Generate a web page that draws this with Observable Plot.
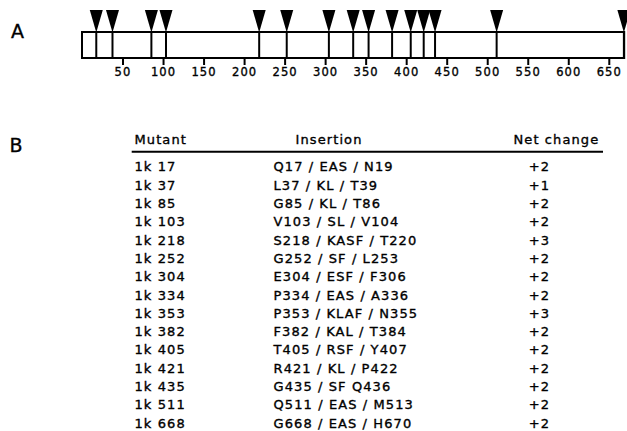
<!DOCTYPE html>
<html><head><meta charset="utf-8">
<script src="https://cdn.jsdelivr.net/npm/d3@7"></script>
<script src="https://cdn.jsdelivr.net/npm/@observablehq/plot@0.6"></script>
<style>
body{margin:0;background:#fff;}
#chart{width:627px;height:431px;overflow:hidden;position:relative;background:#fff}
#chart svg{display:block;overflow:visible;background:#fff}
#chart svg text{letter-spacing:1.1px;stroke:black;stroke-width:0.35px}
</style></head><body><div id="chart"></div>
<script>
// ---- data ----
const mutants = ["1k 17","1k 37","1k 85","1k 103","1k 218","1k 252","1k 304","1k 334","1k 353","1k 382","1k 405","1k 421","1k 435","1k 511","1k 668"];
const sites = [17,37,85,103,218,252,304,334,353,382,405,421,435,511,668];
const insertions = ["Q17 / EAS / N19","L37 / KL / T39","G85 / KL / T86","V103 / SL / V104","S218 / KASF / T220","G252 / SF / L253","E304 / ESF / F306","P334 / EAS / A336","P353 / KLAF / N355","F382 / KAL / T384","T405 / RSF / Y407","R421 / KL / P422","G435 / SF Q436","Q511 / EAS / M513","G668 / EAS / H670"];
const netChanges = ["+2","+1","+2","+2","+3","+2","+2","+2","+3","+2","+2","+2","+2","+2","+2"];
const tickValues = [50,100,150,200,250,300,350,400,450,500,550,600,650];
const headers = ["Mutant","Insertion","Net change"];
const panelLabels = ["A","B"];
const proteinStart = 0, proteinEnd = 669, axisMax = 670;

const rows = mutants.map((m, i) => ({i, mutant: m, site: sites[i], insertion: insertions[i], net: netChanges[i]}));

// ---- layout ----
const FONT = "DejaVu Sans";
const COL = {mutant: 134, insertion: 273, net: 539};
const chart = document.getElementById("chart");

// down-pointing narrow triangle, anchored at its tip
const downTriangle = {draw(ctx) { ctx.moveTo(-6.5, -22.5); ctx.lineTo(6.5, -22.5); ctx.lineTo(0, 0); ctx.closePath(); }};

// ---- panel A ----
const plotA = Plot.plot({
  width: 627, height: 90,
  marginLeft: 82, marginRight: 2, marginTop: 0, marginBottom: 32,
  style: {fontFamily: FONT, fontSize: "11.5px", color: "black", background: "white"},
  x: {domain: [0, axisMax], axis: null},
  y: {domain: [0, 1], range: [58, 32], axis: null},
  marks: [
    Plot.rect([proteinStart], {x1: proteinStart, x2: proteinEnd, y1: 0, y2: 1, fill: "none", stroke: "black", strokeWidth: 2}),
    Plot.ruleX(sites, {x: d => d, y1: 0, y2: 1, stroke: "black", strokeWidth: 2}),
    Plot.dot(sites, {x: d => d, y: 1, symbol: downTriangle, fill: "black", stroke: "none"}),
    Plot.axisX({ticks: tickValues, tickSize: 7, strokeWidth: 2, tickPadding: 2.5, tickFormat: d => String(d)}),
    Plot.text([panelLabels[0]], {text: d => d, frameAnchor: "top-left", dx: -64.5, dy: 24, fontSize: 19, textAnchor: "middle"})
  ]
});

// ---- panel B ----
const plotB = Plot.plot({
  width: 627, height: 341,
  marginLeft: 0, marginRight: 0, marginTop: 0, marginBottom: 0,
  style: {fontFamily: FONT, fontSize: "13px", color: "black", background: "white"},
  y: {domain: [0, mutants.length - 1], range: [76.7, 333], axis: null},
  marks: [
    Plot.text([panelLabels[1]], {text: d => d, frameAnchor: "top-left", dx: 16, dy: 48, fontSize: 19, textAnchor: "middle"}),
    Plot.text([headers[0]], {frameAnchor: "left", dx: COL.mutant, y: -1.5, text: d => d, textAnchor: "start"}),
    Plot.text([headers[1]], {frameAnchor: "left", dx: COL.insertion + 22, y: -1.5, text: d => d, textAnchor: "start"}),
    Plot.text([headers[2]], {frameAnchor: "left", dx: COL.net - 26, y: -1.5, text: d => d, textAnchor: "start"}),
    Plot.ruleY([-0.85], {insetLeft: 131.7, insetRight: 24, stroke: "black", strokeWidth: 2}),
    Plot.text(rows, {frameAnchor: "left", dx: COL.mutant, y: "i", text: "mutant", textAnchor: "start"}),
    Plot.text(rows, {frameAnchor: "left", dx: COL.insertion, y: "i", text: "insertion", textAnchor: "start"}),
    Plot.text(rows, {frameAnchor: "left", dx: COL.net, y: "i", text: "net", textAnchor: "middle"})
  ]
});

chart.append(plotA, plotB);
</script></body></html>
